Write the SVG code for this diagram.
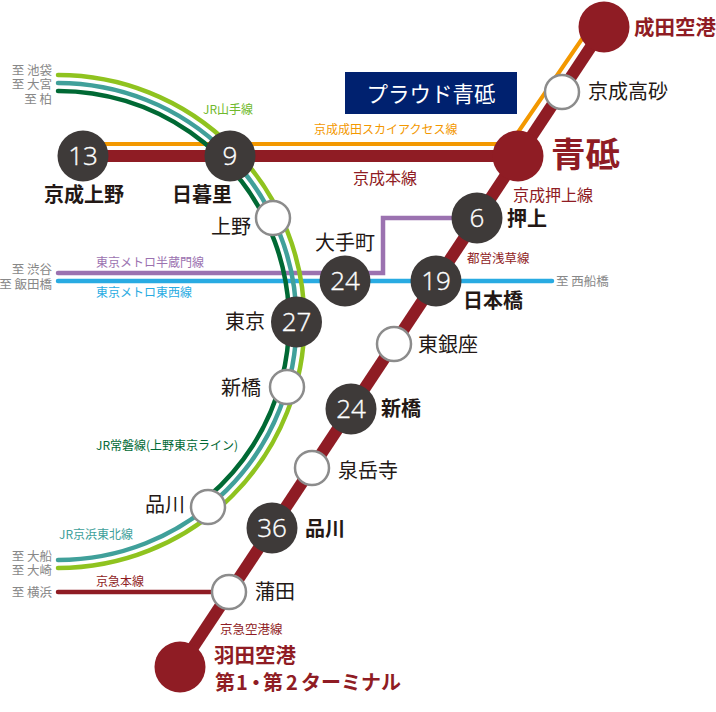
<svg xmlns="http://www.w3.org/2000/svg" width="716" height="712" viewBox="0 0 716 712">
<style>
text{font-family:"Noto Sans CJK JP","Noto Sans",sans-serif}
.l{fill:none;stroke-linecap:round;stroke-width:4.5}
.d{fill:#3e3a39}
.w{fill:#fff;stroke:#8c8c8c;stroke-width:2.5}
.r{fill:#8f1c24}
.n{font-family:"Open Sans","Noto Sans",sans-serif;font-weight:300;font-size:26px;fill:#fff;stroke:#fff;stroke-width:.35px;text-anchor:middle}
.s{font-size:20px;fill:#231815}
.b{font-size:20px;font-weight:700;fill:#231815}
.h{font-size:20.500px;font-weight:700;fill:#8f1c24}
.g{font-size:12.500px;fill:#888;text-anchor:end}
.c{font-size:12px}
</style>
<rect width="716" height="712" fill="#fff"/>
<g id="connectors">
<path class="l" d="M58 273H383V218H477" stroke="#9b72b0"/>
<path class="l" d="M58 281H552" stroke="#29abe2"/>
<path class="l" d="M58 592H229" stroke="#8f1c24"/>
<path d="M83 144H510L584 36" stroke="#f39800" stroke-width="4" fill="none"/>
<path class="l" d="M58 75A246.500 246.500 0 0 1 58 568" stroke="#8fc31f"/>
<path class="l" d="M58 83A238.500 238.500 0 0 1 58 560" stroke="#40a09a"/>
<path class="l" d="M58 91A230.500 230.500 0 0 1 208 497" stroke="#006934"/>
<path d="M83 156H518" stroke="#8f1c24" stroke-width="12" fill="none"/>
<path d="M604 27L180 667" stroke="#8f1c24" stroke-width="12" fill="none"/>
</g>
<g id="banner"><rect x="345" y="72" width="172" height="42" fill="#00216f"/><text x="431" y="102" font-size="21.500" fill="#fff" text-anchor="middle">プラウド青砥</text></g>
<g id="n-ueno-keisei"><circle class="d" cx="83" cy="156" r="25.500"/><text class="n" x="83" y="165">13</text><text class="b" x="84" y="202" text-anchor="middle">京成上野</text></g>
<g id="n-nippori"><circle class="d" cx="230" cy="156" r="25.500"/><text class="n" x="230" y="165">9</text><text class="b" x="202" y="202" text-anchor="middle">日暮里</text></g>
<g id="n-ueno"><circle class="w" cx="273" cy="218" r="17"/><text class="s" x="211" y="234">上野</text></g>
<g id="n-otemachi"><circle class="d" cx="345" cy="281" r="25.500"/><text class="n" x="345" y="290">24</text><text class="s" x="345" y="250" text-anchor="middle">大手町</text></g>
<g id="n-tokyo"><circle class="d" cx="296.500" cy="322" r="25.500"/><text class="n" x="296.500" y="331">27</text><text class="s" x="225" y="329">東京</text></g>
<g id="n-shimbashi"><circle class="w" cx="287" cy="387" r="17"/><text class="s" x="221" y="395">新橋</text></g>
<g id="n-shinagawa-jr"><circle class="w" cx="208" cy="507" r="17"/><text class="s" x="145" y="512">品川</text></g>
<g id="n-narita"><circle class="r" cx="604" cy="27" r="25.500"/><text class="h" x="634" y="35">成田空港</text></g>
<g id="n-takasago"><circle class="w" cx="562" cy="92" r="17"/><text class="s" x="588" y="99">京成高砂</text></g>
<g id="n-aoto"><circle class="r" cx="518" cy="156" r="25.500"/><text x="551" y="167" font-size="34.500" font-weight="700" fill="#8f1c24">青砥</text></g>
<g id="n-oshiage"><circle class="d" cx="477" cy="218" r="25.500"/><text class="n" x="477" y="227">6</text><text class="b" x="507" y="226">押上</text></g>
<g id="n-nihombashi"><circle class="d" cx="436" cy="281" r="25.500"/><text class="n" x="436" y="290">19</text><text class="b" x="463" y="308">日本橋</text></g>
<g id="n-higashiginza"><circle class="w" cx="394" cy="344" r="17"/><text class="s" x="418" y="352">東銀座</text></g>
<g id="n-shimbashi-a"><circle class="d" cx="351" cy="409" r="25.500"/><text class="n" x="351" y="418">24</text><text class="b" x="381" y="416" font-size="19">新橋</text></g>
<g id="n-sengakuji"><circle class="w" cx="312" cy="468" r="17"/><text class="s" x="338" y="478">泉岳寺</text></g>
<g id="n-shinagawa"><circle class="d" cx="272" cy="528" r="25.500"/><text class="n" x="272" y="537">36</text><text class="b" x="305" y="536">品川</text></g>
<g id="n-kamata"><circle class="w" cx="229" cy="592" r="17"/><text class="s" x="255" y="599">蒲田</text></g>
<g id="n-haneda"><circle class="r" cx="180" cy="667" r="25.500"/><text class="h" x="214" y="663">羽田空港</text><text class="h" y="690" style="font-size:20px"><tspan x="215">第</tspan><tspan x="236">1</tspan><tspan x="246">・</tspan><tspan x="263">第</tspan><tspan x="286">2</tspan><tspan x="301">ターミナル</tspan></text></g>
<g id="labels">
<text class="g" x="52" y="75">至 池袋</text><text class="g" x="52" y="89">至 大宮</text><text class="g" x="52" y="104">至 柏</text>
<text class="g" x="52" y="274">至 渋谷</text><text class="g" x="52" y="289">至 飯田橋</text>
<text class="g" x="52" y="561">至 大船</text><text class="g" x="52" y="575">至 大崎</text><text class="g" x="52" y="597">至 横浜</text>
<text class="g" x="556" y="286" style="text-anchor:start">至 西船橋</text>
<text class="c" x="203" y="114" fill="#6fb92c">JR山手線</text>
<text class="c" x="314" y="134" fill="#f39800">京成成田スカイアクセス線</text>
<text x="353" y="184" font-size="16" fill="#8f1c24">京成本線</text>
<text x="513" y="201" font-size="16" fill="#8f1c24">京成押上線</text>
<text x="467" y="263" font-size="12.500" fill="#8f1c24">都営浅草線</text>
<text class="c" x="96" y="267" fill="#9b72b0">東京メトロ半蔵門線</text>
<text class="c" x="96" y="297" fill="#29abe2">東京メトロ東西線</text>
<text class="c" x="96" y="450" fill="#006934">JR常磐線(上野東京ライン)</text>
<text class="c" x="59" y="539" fill="#40a09a">JR京浜東北線</text>
<text class="c" x="96" y="586" fill="#8f1c24">京急本線</text>
<text x="220" y="634" font-size="12.500" fill="#8f1c24">京急空港線</text>
</g>
</svg>
